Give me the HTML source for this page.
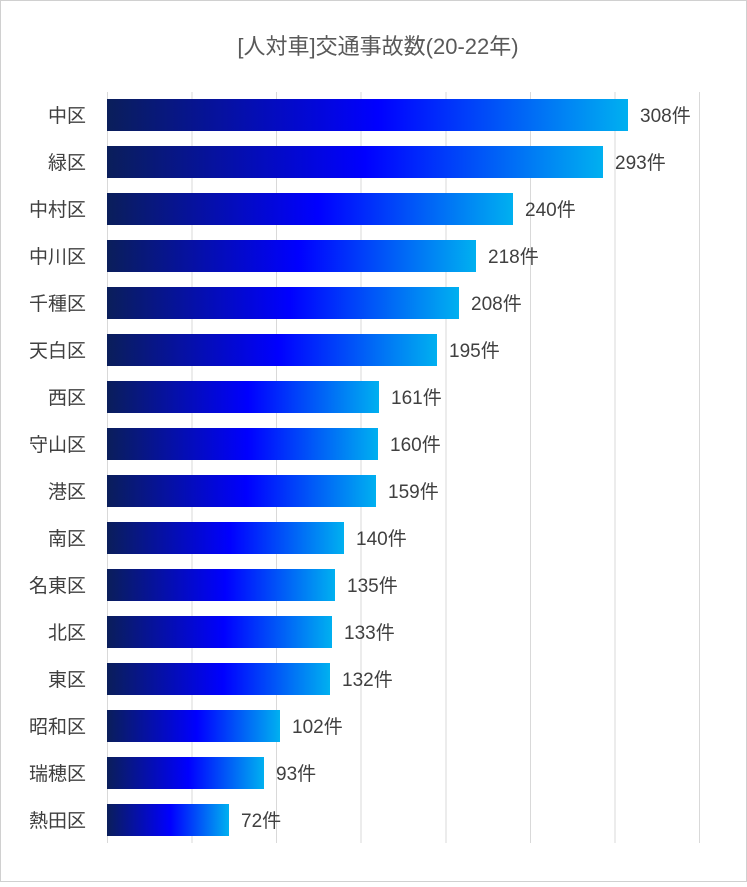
<!DOCTYPE html>
<html><head><meta charset="utf-8"><style>
body{margin:0;background:#fff;}
</style></head><body>
<svg width="747" height="882" xmlns="http://www.w3.org/2000/svg" font-family="'Liberation Sans','Noto Sans CJK JP',sans-serif">
<defs><linearGradient id="g" x1="0" x2="1" y1="0" y2="0">
<stop offset="0" stop-color="#0a1e5a"/><stop offset="0.52" stop-color="#0000ff"/><stop offset="1" stop-color="#00b0f0"/></linearGradient></defs>
<rect x="0.5" y="0.5" width="746" height="881" fill="#fff" stroke="#d0d0d0"/>
<text x="378" y="54" font-size="22" fill="#595959" text-anchor="middle">[人対車]交通事故数(20-22年)</text>
<g stroke="#d9d9d9" stroke-width="1">
<line x1="107.5" y1="92" x2="107.5" y2="843"/><line x1="192" y1="92" x2="192" y2="843"/><line x1="276.5" y1="92" x2="276.5" y2="843"/><line x1="361" y1="92" x2="361" y2="843"/><line x1="446" y1="92" x2="446" y2="843"/><line x1="530.5" y1="92" x2="530.5" y2="843"/><line x1="615" y1="92" x2="615" y2="843"/><line x1="699.5" y1="92" x2="699.5" y2="843"/>
</g>
<g font-size="19" fill="#404040">
<rect x="107" y="99" width="521" height="32" fill="url(#g)"/><text x="86" y="122" text-anchor="end">中区</text><text x="640" y="122">308件</text>
<rect x="107" y="146" width="496" height="32" fill="url(#g)"/><text x="86" y="169" text-anchor="end">緑区</text><text x="615" y="169">293件</text>
<rect x="107" y="193" width="406" height="32" fill="url(#g)"/><text x="86" y="216" text-anchor="end">中村区</text><text x="525" y="216">240件</text>
<rect x="107" y="240" width="369" height="32" fill="url(#g)"/><text x="86" y="263" text-anchor="end">中川区</text><text x="488" y="263">218件</text>
<rect x="107" y="287" width="352" height="32" fill="url(#g)"/><text x="86" y="310" text-anchor="end">千種区</text><text x="471" y="310">208件</text>
<rect x="107" y="334" width="330" height="32" fill="url(#g)"/><text x="86" y="357" text-anchor="end">天白区</text><text x="449" y="357">195件</text>
<rect x="107" y="381" width="272" height="32" fill="url(#g)"/><text x="86" y="404" text-anchor="end">西区</text><text x="391" y="404">161件</text>
<rect x="107" y="428" width="271" height="32" fill="url(#g)"/><text x="86" y="451" text-anchor="end">守山区</text><text x="390" y="451">160件</text>
<rect x="107" y="475" width="269" height="32" fill="url(#g)"/><text x="86" y="498" text-anchor="end">港区</text><text x="388" y="498">159件</text>
<rect x="107" y="522" width="237" height="32" fill="url(#g)"/><text x="86" y="545" text-anchor="end">南区</text><text x="356" y="545">140件</text>
<rect x="107" y="569" width="228" height="32" fill="url(#g)"/><text x="86" y="592" text-anchor="end">名東区</text><text x="347" y="592">135件</text>
<rect x="107" y="616" width="225" height="32" fill="url(#g)"/><text x="86" y="639" text-anchor="end">北区</text><text x="344" y="639">133件</text>
<rect x="107" y="663" width="223" height="32" fill="url(#g)"/><text x="86" y="686" text-anchor="end">東区</text><text x="342" y="686">132件</text>
<rect x="107" y="710" width="173" height="32" fill="url(#g)"/><text x="86" y="733" text-anchor="end">昭和区</text><text x="292" y="733">102件</text>
<rect x="107" y="757" width="157" height="32" fill="url(#g)"/><text x="86" y="780" text-anchor="end">瑞穂区</text><text x="276" y="780">93件</text>
<rect x="107" y="804" width="122" height="32" fill="url(#g)"/><text x="86" y="827" text-anchor="end">熱田区</text><text x="241" y="827">72件</text>
</g>
</svg>
</body></html>
